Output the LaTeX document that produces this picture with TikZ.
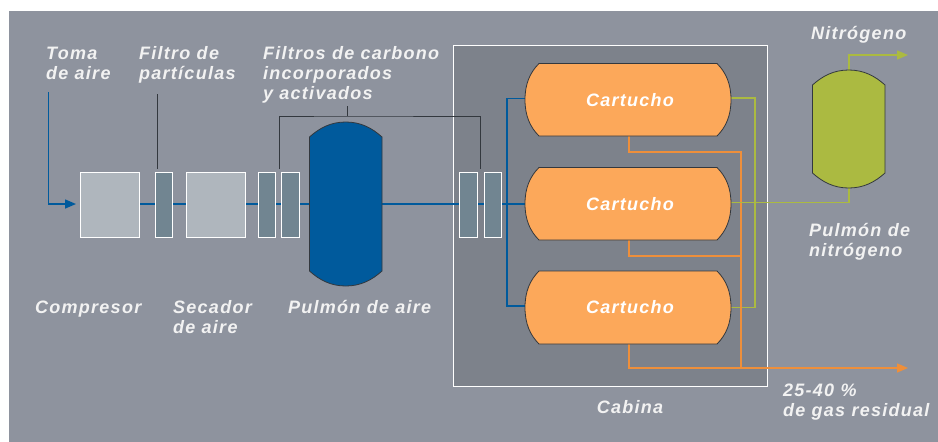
\documentclass[tikz,border=0pt]{standalone}
\usepackage{fontspec}
\setmainfont{Liberation Sans}[LetterSpace=7]
\usetikzlibrary{arrows.meta,positioning,calc}
\definecolor{bgc}{HTML}{8E939E}
\definecolor{cabc}{HTML}{7D828B}
\definecolor{boxc}{HTML}{AFB6BD}
\definecolor{filc}{HTML}{718591}
\definecolor{airc}{HTML}{005A9C}
\definecolor{orc}{HTML}{FCA85A}
\definecolor{orl}{HTML}{EE8F3B}
\definecolor{grc}{HTML}{ABBA41}
\definecolor{edgec}{HTML}{33383E}
\pgfdeclarelayer{under}
\pgfsetlayers{under,main}
\tikzset{
  bigbox/.style={draw=white,line width=1pt,fill=boxc,minimum width=59pt,minimum height=64.5pt,inner sep=0pt,outer sep=0pt,anchor=north west},
  filt/.style={draw=white,line width=1pt,fill=filc,minimum width=17.5pt,minimum height=64.5pt,inner sep=0pt,outer sep=0pt,anchor=north west},
  tankframe/.style={inner sep=0pt,outer sep=0pt,anchor=north west},
  lbl/.style={inner sep=0pt,anchor=base west,text=white!95!black,font=\fontsize{18}{20}\selectfont\bfseries\itshape,align=left},
  lblc/.style={lbl,anchor=base},
  airline/.style={draw=airc,line width=1.5pt},
  orline/.style={draw=orl,line width=1.5pt},
  grline/.style={draw=grc,line width=1.5pt},
  leader/.style={draw=edgec,line width=1pt},
  tip/.style={-{Triangle[length=11pt,width=9pt]}},
}
% horizontal tank: name, top y, bottom y
\newcommand{\carttank}[3]{%
  \path[draw=edgec,line width=0.8pt,fill=orc] (539,#2) -- (717,#2)
    .. controls (726,#2+9) and (731,{(#2+#3)/2-16}) .. (731,{(#2+#3)/2})
    .. controls (731,{(#2+#3)/2+16}) and (726,#3-9) .. (717,#3) -- (539,#3)
    .. controls (530,#3-9) and (525,{(#2+#3)/2+16}) .. (525,{(#2+#3)/2})
    .. controls (525,{(#2+#3)/2-16}) and (530,#2+9) .. (539,#2) -- cycle;
  \node[tankframe,minimum width=206pt,minimum height=#3pt-#2pt,text=white,font=\fontsize{18}{20}\selectfont\bfseries\itshape] (#1) at (525,#2) {\hspace*{4pt}Cartucho};
}
% vertical tank: name, left x, right x, top y, bottom y, fill
\newcommand{\verttank}[6]{%
  \path[draw=edgec,line width=0.8pt,fill=#6] (#2,#4+15) .. controls (#2+10,#4+6) and ({(#2+#3)/2-15},#4) .. ({(#2+#3)/2},#4)
    .. controls ({(#2+#3)/2+15},#4) and (#3-10,#4+6) .. (#3,#4+15) -- (#3,#5-15)
    .. controls (#3-10,#5-6) and ({(#2+#3)/2+15},#5) .. ({(#2+#3)/2},#5)
    .. controls ({(#2+#3)/2-15},#5) and (#2+10,#5-6) .. (#2,#5-15) -- cycle;
  \node[tankframe,minimum width=#3pt-#2pt,minimum height=#5pt-#4pt] (#1) at (#2,#4) {};
}
\begin{document}
\begin{tikzpicture}[x=1pt,y=-1pt]
\useasboundingbox (0,0) rectangle (938,442);
\begin{pgfonlayer}{under}
\fill[white] (0,0) rectangle (938,442);
\fill[bgc] (9,11) rectangle (938,442);
\draw[draw=white,line width=1pt,fill=cabc] (453,45) rectangle (767,386);
\end{pgfonlayer}

% Equipment
\node[bigbox] (comp) at (80.5,172.5) {};
\node[filt] (f1) at (155.2,172.5) {};
\node[bigbox] (sec) at (186.5,172.5) {};
\node[filt] (f2) at (258,172.5) {};
\node[filt] (f3) at (281.7,172.5) {};
\verttank{pa}{309.5}{382}{122}{286}{airc}
\node[filt] (f4) at (459.8,172.5) {};
\node[filt] (f5) at (484.2,172.5) {};
\carttank{c1}{63.5}{136}
\carttank{c2}{167.5}{240}
\carttank{c3}{271}{344}
\verttank{pn}{812.5}{885}{70}{188}{grc}

% Free ends
\coordinate (airin) at (48.5,92);
\coordinate (airtip) at (76,204);
\coordinate (hdr) at (507,204);
\coordinate (f1lead) at (157.5,94);
\coordinate (cfl) at (347.5,106);
\coordinate (cfr) at (347.5,116);
\coordinate (brl) at (279.5,169);
\coordinate (brr) at (480.5,169);
\coordinate (n2tip) at (908,55);
\coordinate (wtip) at (908,368);
\coordinate (wbus) at (741,152);

\begin{pgfonlayer}{under}
  % air
  \draw[airline,tip] (airin) |- (airtip);
  \draw[airline] (comp.east |- airtip) -- (pa.west |- airtip);
  \draw[airline] (pa.east |- airtip) -- (c2.west |- airtip);
  \draw[airline] ([yshift=1.5pt]c1.west) -| (hdr) |- ([yshift=1.5pt]c3.west);
  % nitrogen collected from the outer cartridges
  \draw[grline] ([yshift=2pt]c1.east) -| (755,307.5) -- (c3.east);
  % waste
  \draw[orline] ([xshift=1pt]c1.south) |- (wbus) -- (wbus |- wtip);
  \draw[orline] ([xshift=1pt]c2.south) |- (wbus |- 0,256);
  \draw[orline,tip] ([xshift=1pt]c3.south) |- (wtip);
  % nitrogen to the buffer and out
  \draw[grline] ([yshift=1.25pt]c2.east) -| (pn.south);
  \draw[grline,tip] (pn.north) |- (n2tip);
\end{pgfonlayer}
% leaders
\draw[leader] (f1lead) -- (f1lead |- 0,169);
\draw[leader] (brl) |- (cfr) -| (brr);
\draw[leader] (cfl) -- (cfr);

% Labels
\node[lbl] (t1) at (46,79) {Toma\\de aire};
\node[lbl] (t2) at (139,79) {Filtro de\\partículas};
\node[lbl] (t3) at (263,99) {Filtros de carbono\\incorporados\\y activados};
\node[lbl] (t4) at (811,39) {Nitrógeno};
\node[lbl] (t5) at (809,256) {Pulmón de\\nitrógeno};
\node[lbl] (t6) at (35,313) {Compresor};
\node[lbl] (t7) at (173,333) {Secador\\de aire};
\node[lbl] (t8) at (288,313) {Pulmón de aire};
\node[lblc] (t9) at (630,413) {Cabina};
\node[lbl] (t10) at (783,416) {25-40 \%\\de gas residual};
\end{tikzpicture}
\end{document}
